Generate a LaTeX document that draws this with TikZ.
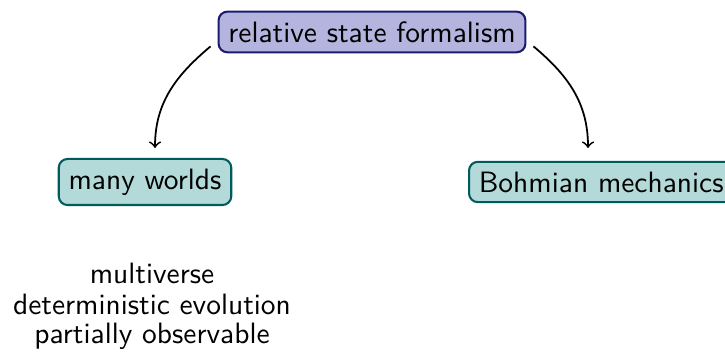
\documentclass[tikz,border=0pt]{standalone}
\usetikzlibrary{arrows}
\definecolor{rootfill}{RGB}{180,180,222}
\definecolor{rootdraw}{RGB}{28,28,110}
\definecolor{leaffill}{RGB}{179,217,217}
\definecolor{leafdraw}{RGB}{0,92,92}
\tikzset{
  rootbox/.style={draw=rootdraw, fill=rootfill, line width=0.7pt, rounded corners=3pt, font=\sffamily, inner sep=3.33pt},
  leafbox/.style={draw=leafdraw, fill=leaffill, line width=0.7pt, rounded corners=3pt, font=\sffamily, inner sep=3.33pt},
  plain/.style={font=\sffamily, inner sep=0pt},
  link/.style={->, semithick}
}
\begin{document}
\begin{tikzpicture}[x=0.33967pt, y=-0.33967pt]
\useasboundingbox (0,0) rectangle (725,361);
\begin{scope}
\clip (0,0) rectangle (725,361);
\node[rootbox] (root) at (372,32) {relative state formalism};
\node[leafbox] (mw) at (145,182) {many worlds};
\node[leafbox, anchor=west] (bohm) at (468,182) {Bohmian mechanics};
\node[plain] (t1) at (152,273) {multiverse};
\node[plain] (t2) at (152,304) {deterministic evolution};
\node[plain] (t3) at (152,336) {partially observable};
\coordinate (s1) at ([shift={(-7,-7)}]root.south west);
\coordinate (s2) at ([shift={(7,-7)}]root.south east);
\coordinate (e1) at (155,148);
\coordinate (e2) at (588,148);
\draw[link] (s1) to[out=220, in=90] (e1);
\draw[link] (s2) to[out=-40, in=90] (e2);
\end{scope}
\end{tikzpicture}
\end{document}
